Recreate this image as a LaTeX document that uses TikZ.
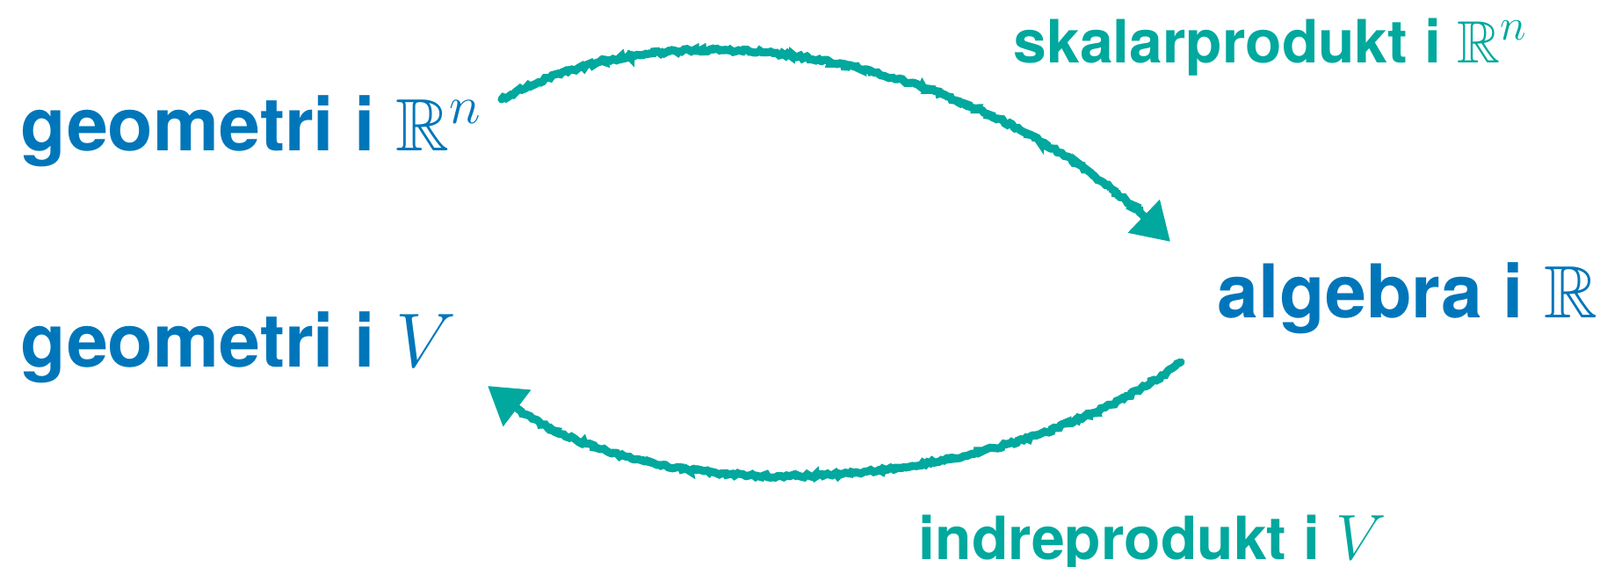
\documentclass[tikz,border=0pt]{standalone}
\usepackage{amssymb}
\usepackage{fontspec}
\setmainfont{TeX Gyre Heros}
\usepackage{tikz}
\usetikzlibrary{calc,arrows.meta,decorations.pathmorphing}
\definecolor{geoblue}{RGB}{0,118,186}
\definecolor{chalkteal}{RGB}{0,168,157}

\begin{document}
\begin{tikzpicture}[
  mainlbl/.style={font=\fontsize{24}{28}\selectfont\bfseries, text=geoblue, inner sep=0pt, anchor=base west},
  arrowlbl/.style={font=\fontsize{19.3}{23}\selectfont\bfseries, text=chalkteal, inner sep=0pt, anchor=base west},
  chalk/.style={draw=chalkteal, line width=2.6pt, line cap=round,
    -{Triangle[length=4.2mm, width=5mm]},
    decorate, decoration={random steps, segment length=0.8pt, amplitude=0.5pt, post length=5mm}}
]
  % Frame
  \useasboundingbox (0,0) rectangle (18.21,-6.45);
  % Labels
  \node[mainlbl] (geoR) at (0.23,-1.72) {geometri i $\mathbb{R}^n$};
  \node[mainlbl] (geoV) at (0.23,-4.18) {geometri i $V$};
  \node[mainlbl] (alg) at (13.85,-3.62) {algebra i $\mathbb{R}$};
  \node[arrowlbl] (skal) at (11.53,-0.72) {skalarprodukt i $\mathbb{R}^n$};
  \node[arrowlbl] (indre) at (10.45,-6.37) {indreprodukt i $V$};
  % Arrows
  \draw[chalk] ($(geoR.base west)+(5.48,0.59)$)
    .. controls +(2.29,1.25) and +(-1.82,1.9) .. ($(alg.base west)+(-0.53,0.87)$);
  \draw[chalk] ($(alg.base west)+(-0.41,-0.50)$)
    .. controls +(-1.84,-1.4) and +(1.85,-1.65) .. ($(geoV.base west)+(5.32,-0.21)$);
\end{tikzpicture}
\end{document}
